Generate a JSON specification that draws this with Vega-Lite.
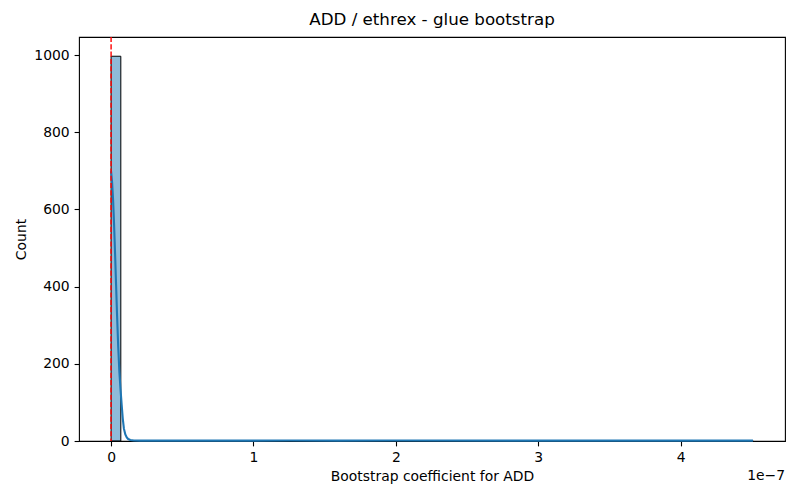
{
  "$schema": "https://vega.github.io/schema/vega-lite/v6.json",
  "width": 706,
  "height": 404,
  "autosize": {"type": "none"},
  "padding": {"left": 79, "top": 37, "right": 15, "bottom": 59},
  "background": "white",
  "title": {
    "text": "ADD / ethrex - glue bootstrap",
    "font": "DejaVu Sans",
    "fontSize": 16.7,
    "fontWeight": "normal",
    "color": "black",
    "offset": 8
  },
  "config": {
    "view": {"stroke": "black", "strokeWidth": 1.1},
    "axis": {
      "grid": false,
      "domain": false,
      "tickColor": "black",
      "tickSize": 4.9,
      "tickWidth": 1.1,
      "labelFont": "DejaVu Sans",
      "labelFontSize": 13.9,
      "labelColor": "black",
      "labelPadding": 4.9,
      "titleFont": "DejaVu Sans",
      "titleFontSize": 13.9,
      "titleFontWeight": "normal",
      "titleColor": "black",
      "titlePadding": 5
    }
  },
  "datasets": {
    "bins": [
      {"bin_start": 0, "bin_end": 6.83e-9, "count": 997},
      {"bin_start": 1.2294e-7, "bin_end": 1.2977e-7, "count": 1},
      {"bin_start": 1.9807e-7, "bin_end": 2.049e-7, "count": 1},
      {"bin_start": 4.4397e-7, "bin_end": 4.508e-7, "count": 1}
    ],
    "kde": [
      {"coef": 0, "count": 699},
      {"coef": 7e-10, "count": 670},
      {"coef": 1.4e-9, "count": 625},
      {"coef": 2.1e-9, "count": 560},
      {"coef": 2.8e-9, "count": 485},
      {"coef": 3.5e-9, "count": 405},
      {"coef": 4.2e-9, "count": 325},
      {"coef": 5e-9, "count": 245},
      {"coef": 5.8e-9, "count": 180},
      {"coef": 6.6e-9, "count": 135},
      {"coef": 7.4e-9, "count": 95},
      {"coef": 8.2e-9, "count": 58},
      {"coef": 9e-9, "count": 32},
      {"coef": 1e-8, "count": 17},
      {"coef": 1.1e-8, "count": 9},
      {"coef": 1.2e-8, "count": 5},
      {"coef": 1.35e-8, "count": 2.5},
      {"coef": 1.6e-8, "count": 1.2},
      {"coef": 2e-8, "count": 1},
      {"coef": 1e-7, "count": 1},
      {"coef": 1.26e-7, "count": 1.3},
      {"coef": 1.6e-7, "count": 1},
      {"coef": 2.0e-7, "count": 1.3},
      {"coef": 3e-7, "count": 1},
      {"coef": 4e-7, "count": 1},
      {"coef": 4.508e-7, "count": 1}
    ]
  },
  "layer": [
    {
      "data": {"name": "bins"},
      "mark": {"type": "bar", "fill": "#1f77b4", "fillOpacity": 0.5, "stroke": "black", "strokeWidth": 1},
      "encoding": {
        "x": {
          "field": "bin_start",
          "type": "quantitative",
          "title": "Bootstrap coefficient for ADD",
          "scale": {"domain": [-2.254e-8, 4.733e-7], "nice": false, "zero": false, "padding": 0},
          "axis": {
            "values": [0, 1e-7, 2e-7, 3e-7, 4e-7],
            "labelExpr": "round(datum.value * 1e7)"
          }
        },
        "x2": {"field": "bin_end"},
        "y": {
          "field": "count",
          "type": "quantitative",
          "title": "Count",
          "scale": {"domain": [0, 1046.85], "nice": false, "padding": 0},
          "axis": {"values": [0, 200, 400, 600, 800, 1000], "format": "d"}
        },
        "y2": {"datum": 0}
      }
    },
    {
      "data": {"name": "kde"},
      "mark": {"type": "line", "color": "#1f77b4", "strokeWidth": 2.1},
      "encoding": {
        "x": {"field": "coef", "type": "quantitative"},
        "y": {"field": "count", "type": "quantitative"}
      }
    },
    {
      "data": {"values": [{"ref": 0}]},
      "mark": {"type": "rule", "color": "red", "strokeWidth": 1.4, "strokeDash": [5.1, 2.2]},
      "encoding": {
        "x": {"field": "ref", "type": "quantitative"}
      }
    },
    {
      "data": {"values": [{"label": "1e−7", "xpos": 4.733e-7, "ypos": -90.6}]},
      "mark": {"type": "text", "align": "right", "baseline": "middle", "font": "DejaVu Sans", "fontSize": 13.9, "color": "black"},
      "encoding": {
        "text": {"field": "label"},
        "x": {"field": "xpos", "type": "quantitative"},
        "y": {"field": "ypos", "type": "quantitative"}
      }
    }
  ]
}
